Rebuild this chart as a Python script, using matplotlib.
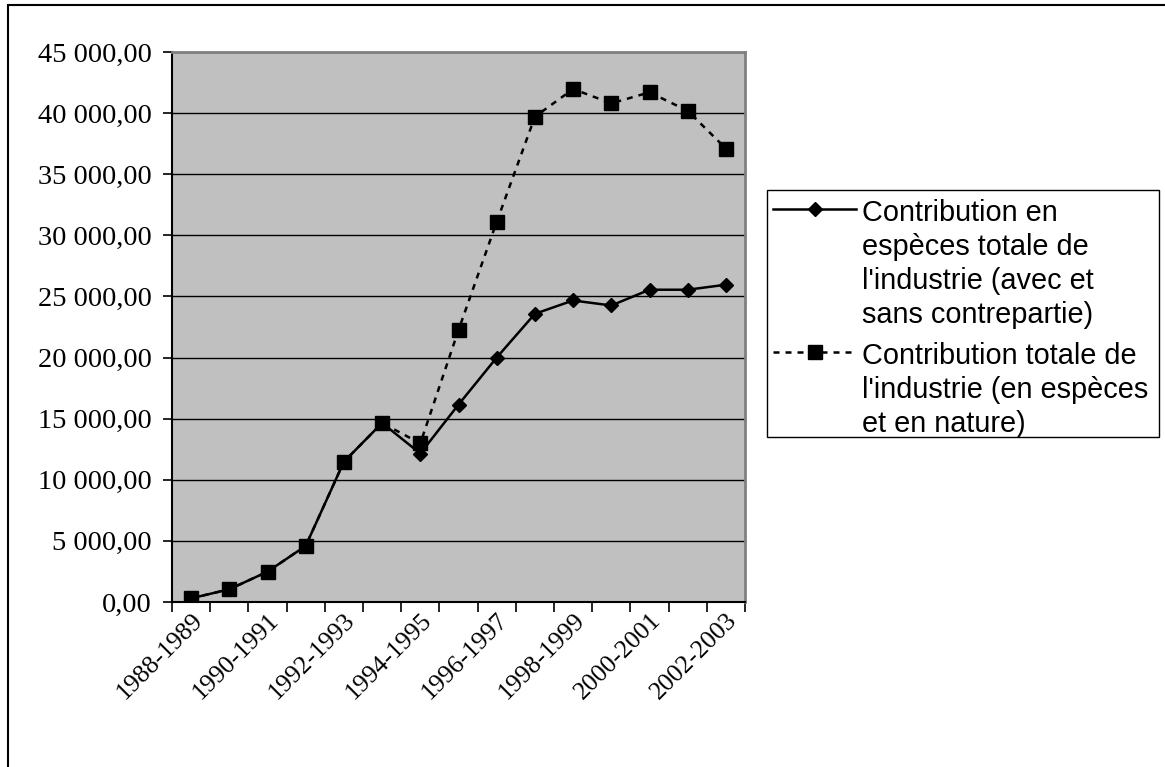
import numpy as np
import matplotlib
matplotlib.use('Agg')
import matplotlib.pyplot as plt
from matplotlib.ticker import FuncFormatter, FixedLocator
from matplotlib.patches import Rectangle

# --------------------------------------------------------------------
# -- DONNEES
# --------------------------------------------------------------------
annees = ['1988-1989', '1989-1990', '1990-1991', '1991-1992', '1992-1993',
          '1993-1994', '1994-1995', '1995-1996', '1996-1997', '1997-1998',
          '1998-1999', '1999-2000', '2000-2001', '2001-2002', '2002-2003']
especes = [300, 1040, 2480, 4590, 11475, 14650, 12150, 16150, 20000,
           23580, 24670, 24260, 25550, 25550, 25960]
totale = [300, 1040, 2480, 4590, 11475, 14650, 12975, 22250, 31100,
          39700, 41970, 40800, 41700, 40190, 37100]
lab_especes = ("Contribution en\nespèces totale de\n"
               "l'industrie (avec et\nsans contrepartie)")
lab_totale = ("Contribution totale de\nl'industrie (en espèces\n"
              "et en nature)")

SERIF = 'Liberation Serif'
SANS = 'Liberation Sans'

fig = plt.figure(figsize=(11.65, 7.67), dpi=100)
W, H = 1165, 767
ax = fig.add_axes([172 / W, 1 - 602 / H, (745 - 172) / W, (602 - 52) / H])
ax.set_facecolor('#c0c0c0')

x = np.arange(len(annees)) + 0.5
ax.plot(x, especes, color='black', lw=1.8, marker='D', ms=7,
        label=lab_especes, zorder=3)
ax.plot(x, totale, color='black', lw=1.8, ls=(0, (2.4, 2.4)), marker='s',
        ms=10, label=lab_totale, zorder=4)

# axes
ax.set_xlim(0, len(annees))
ax.set_ylim(0, 45000)
ax.yaxis.set_major_locator(FixedLocator(np.arange(0, 45001, 5000)))
ax.yaxis.set_major_formatter(FuncFormatter(
    lambda v, p: '{:,.2f}'.format(v).replace(',', ' ').replace('.', ',')))
ax.grid(axis='y', color='black', lw=1)
ax.set_axisbelow(True)

ax.set_xticks(x[::2])
ax.set_xticklabels(annees[::2], rotation=45, ha='right', va='top',
                   rotation_mode='anchor', fontfamily=SERIF, fontsize=18.5)
ax.set_xticks(np.arange(0, len(annees) + 1), minor=True)
ax.tick_params(axis='x', which='major', length=0, pad=5)
ax.tick_params(axis='x', which='minor', length=7, width=1.2, direction='out')
ax.tick_params(axis='y', length=6.5, width=1.2, pad=8)
for t in ax.get_yticklabels():
    t.set_fontfamily(SERIF)
    t.set_fontsize(20.5)

for s in ['top', 'right']:
    ax.spines[s].set_color('#808080')
    ax.spines[s].set_linewidth(2)
for s in ['left', 'bottom']:
    ax.spines[s].set_color('black')
    ax.spines[s].set_linewidth(1.5)

# legende (cadre dessine a part pour coller aux dimensions d'origine)
leg = fig.legend(loc='upper left', bbox_to_anchor=(764 / W, 1 - 190 / H),
                 prop={'family': SANS, 'size': 20.8}, frameon=False,
                 borderpad=0.3, handlelength=2.9, handletextpad=0.18,
                 labelspacing=0.45, borderaxespad=0)
for t in leg.get_texts():
    t.set_linespacing(1.28)
# poignee alignee sur la premiere ligne du libelle
for col in leg._legend_handle_box.get_children():
    for item in col.get_children():
        item.align = 'top'
fig.patches.append(Rectangle((767 / W, 1 - 437 / H), (1159 - 767) / W,
                             (437 - 190) / H, transform=fig.transFigure,
                             fill=False, edgecolor='black', lw=1))

# cadre exterieur
fig.patches.append(Rectangle((8 / W, -0.1), 1.2, 1.1 - 5 / H,
                             transform=fig.transFigure, fill=False,
                             edgecolor='black', lw=1.5))

fig.savefig('out.png', dpi=100)
